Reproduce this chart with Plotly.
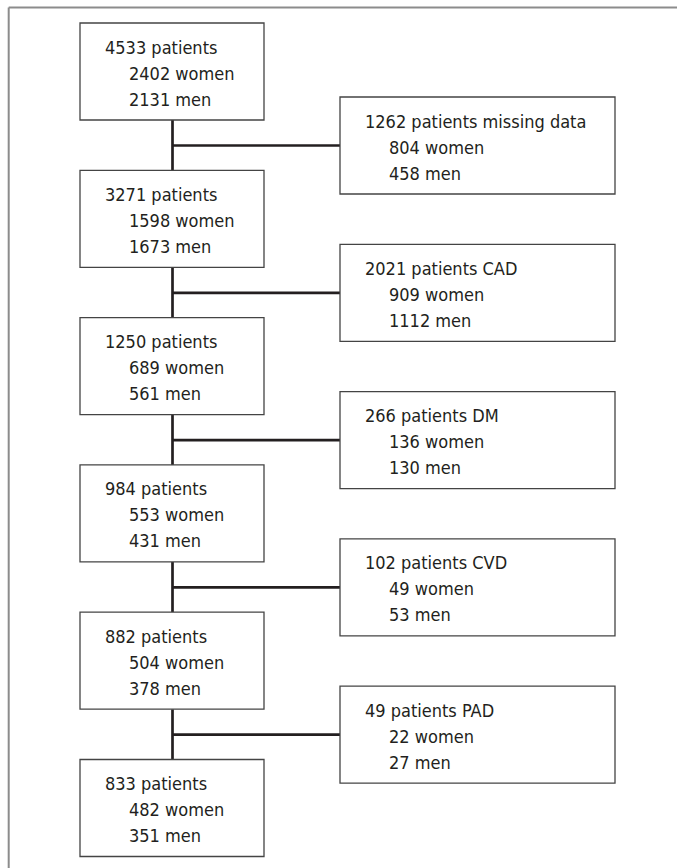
import plotly.graph_objects as go

# main flow (left column)
kept_total = [4533, 3271, 1250, 984, 882, 833]
kept_women = [2402, 1598, 689, 553, 504, 482]
kept_men = [2131, 1673, 561, 431, 378, 351]

# exclusions (right column)
excl_label = ["missing data", "CAD", "DM", "CVD", "PAD"]
excl_total = [1262, 2021, 266, 102, 49]
excl_women = [804, 909, 136, 49, 22]
excl_men = [458, 1112, 130, 53, 27]

W, H = 677, 868
FONT = "Liberation Sans Narrow, DejaVu Sans Condensed, Roboto Condensed, Arial Narrow, sans-serif"
TXT = "#231f20"

# geometry of the boxes
L_X0, L_X1 = 80, 264
R_X0, R_X1 = 340, 615
BOX_H = 97
STEP = 147.3
L_TOP0 = 23
R_TOP0 = 97
LINE_X = 172.5

fig = go.Figure()
shapes = []
annots = []


def box_text(x0, top, lines):
    # first line flush, the rest indented
    for i, t in enumerate(lines):
        annots.append(dict(x=x0 + (22.5 if i == 0 else 46.5), y=top + 24 + 26 * i, text=t,
                           xref="x", yref="y", xanchor="left", yanchor="middle",
                           showarrow=False, font=dict(family=FONT, size=18, color=TXT)))


for i in range(len(kept_total)):
    top = L_TOP0 + i * STEP
    shapes.append(dict(type="rect", x0=L_X0, x1=L_X1, y0=top, y1=top + BOX_H,
                       line=dict(color="#444444", width=1.3), fillcolor="white", layer="above"))
    box_text(L_X0, top, [f"{kept_total[i]} patients", f"{kept_women[i]} women", f"{kept_men[i]} men"])

for i in range(len(excl_total)):
    top = R_TOP0 + i * STEP
    shapes.append(dict(type="rect", x0=R_X0, x1=R_X1, y0=top, y1=top + BOX_H,
                       line=dict(color="#444444", width=1.3), fillcolor="white", layer="above"))
    box_text(R_X0, top, [f"{excl_total[i]} patients {excl_label[i]}",
                         f"{excl_women[i]} women", f"{excl_men[i]} men"])
    # connectors
    ly = L_TOP0 + i * STEP
    shapes.append(dict(type="line", x0=LINE_X, x1=LINE_X, y0=ly + BOX_H, y1=ly + STEP,
                       line=dict(color="#231f20", width=2.7), layer="below"))
    hy = top + BOX_H / 2
    shapes.append(dict(type="line", x0=LINE_X, x1=R_X0, y0=hy, y1=hy,
                       line=dict(color="#231f20", width=2.7), layer="below"))

# outer frame (top and left only)
shapes.append(dict(type="line", x0=8.7, x1=W, y0=7.5, y1=7.5, line=dict(color="#8c8c8c", width=2)))
shapes.append(dict(type="line", x0=8.7, x1=8.7, y0=7.5, y1=H, line=dict(color="#8c8c8c", width=2)))

fig.update_layout(width=W, height=H, margin=dict(l=0, r=0, t=0, b=0),
                  paper_bgcolor="white", plot_bgcolor="white",
                  shapes=shapes, annotations=annots, showlegend=False,
                  xaxis=dict(range=[0, W], visible=False, fixedrange=True),
                  yaxis=dict(range=[H, 0], visible=False, fixedrange=True))

fig.write_html("out.html", config={"displayModeBar": False},
               post_script="document.body.style.margin='0';document.body.style.overflow='hidden';")
